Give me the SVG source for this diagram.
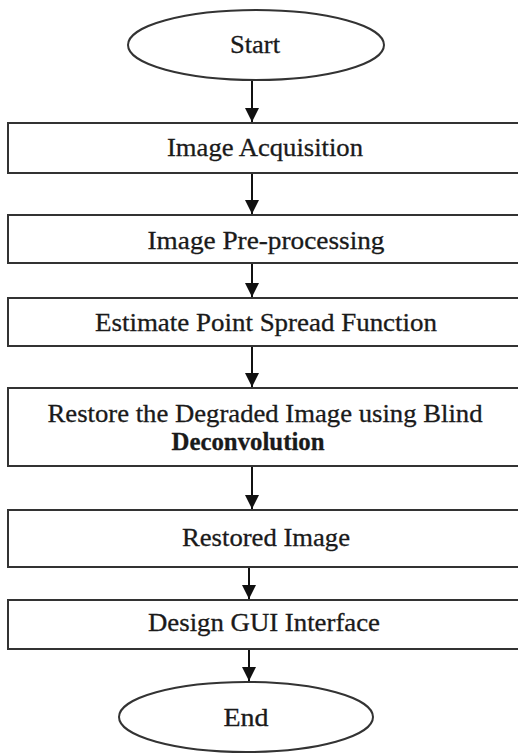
<svg xmlns="http://www.w3.org/2000/svg" width="518" height="754" viewBox="0 0 518 754">
<style>
.shape{fill:#fff;stroke:#333;stroke-width:2}
.t{font-family:"Liberation Serif","Times New Roman",serif;font-size:25px;fill:#1a1a1a;stroke:#1a1a1a;stroke-width:0.3;text-anchor:middle}
.b{font-weight:bold}
.c{stroke:#111;stroke-width:2;fill:none;marker-end:url(#ah)}
</style>
<defs>
<marker id="ah" markerWidth="14" markerHeight="14" refX="14" refY="7" orient="auto" markerUnits="userSpaceOnUse" viewBox="0 0 14 14">
<path d="M0,0 L14,7 L0,14 Z" fill="#111"/>
</marker>
</defs>
<rect width="518" height="754" fill="#fff"/>
<g id="connectors">
<line class="c" x1="252" y1="80" x2="252" y2="122"/>
<line class="c" x1="252" y1="173" x2="252" y2="214"/>
<line class="c" x1="252" y1="263" x2="252" y2="297"/>
<line class="c" x1="252" y1="346" x2="252" y2="387"/>
<line class="c" x1="252" y1="466" x2="252" y2="509"/>
<line class="c" x1="249" y1="567" x2="249" y2="599"/>
<line class="c" x1="249" y1="649" x2="249" y2="681"/>
</g>
<g id="start">
<ellipse class="shape" cx="256" cy="45" rx="128" ry="35"/>
<text class="t" x="255" y="53" textLength="50" lengthAdjust="spacingAndGlyphs">Start</text>
</g>
<g id="acq">
<rect class="shape" x="8" y="123" width="530" height="50"/>
<text class="t" x="265" y="156" textLength="196" lengthAdjust="spacingAndGlyphs">Image Acquisition</text>
</g>
<g id="pre">
<rect class="shape" x="8" y="215" width="530" height="48"/>
<text class="t" x="266" y="249" textLength="237" lengthAdjust="spacingAndGlyphs">Image Pre-processing</text>
</g>
<g id="psf">
<rect class="shape" x="8" y="298" width="530" height="48"/>
<text class="t" x="266" y="331" textLength="342" lengthAdjust="spacingAndGlyphs">Estimate Point Spread Function</text>
</g>
<g id="restore">
<rect class="shape" x="8" y="388" width="530" height="78"/>
<text class="t" x="265" y="422" textLength="435" lengthAdjust="spacingAndGlyphs">Restore the Degraded Image using Blind</text>
<text class="t b" x="248" y="450" textLength="153" lengthAdjust="spacingAndGlyphs">Deconvolution</text>
</g>
<g id="restored">
<rect class="shape" x="8" y="510" width="530" height="57"/>
<text class="t" x="266" y="546" textLength="168" lengthAdjust="spacingAndGlyphs">Restored Image</text>
</g>
<g id="gui">
<rect class="shape" x="8" y="600" width="530" height="49"/>
<text class="t" x="264" y="631" textLength="232" lengthAdjust="spacingAndGlyphs">Design GUI Interface</text>
</g>
<g id="end">
<ellipse class="shape" cx="246" cy="717" rx="127" ry="35"/>
<text class="t" x="246" y="726" textLength="45" lengthAdjust="spacingAndGlyphs">End</text>
</g>
</svg>
